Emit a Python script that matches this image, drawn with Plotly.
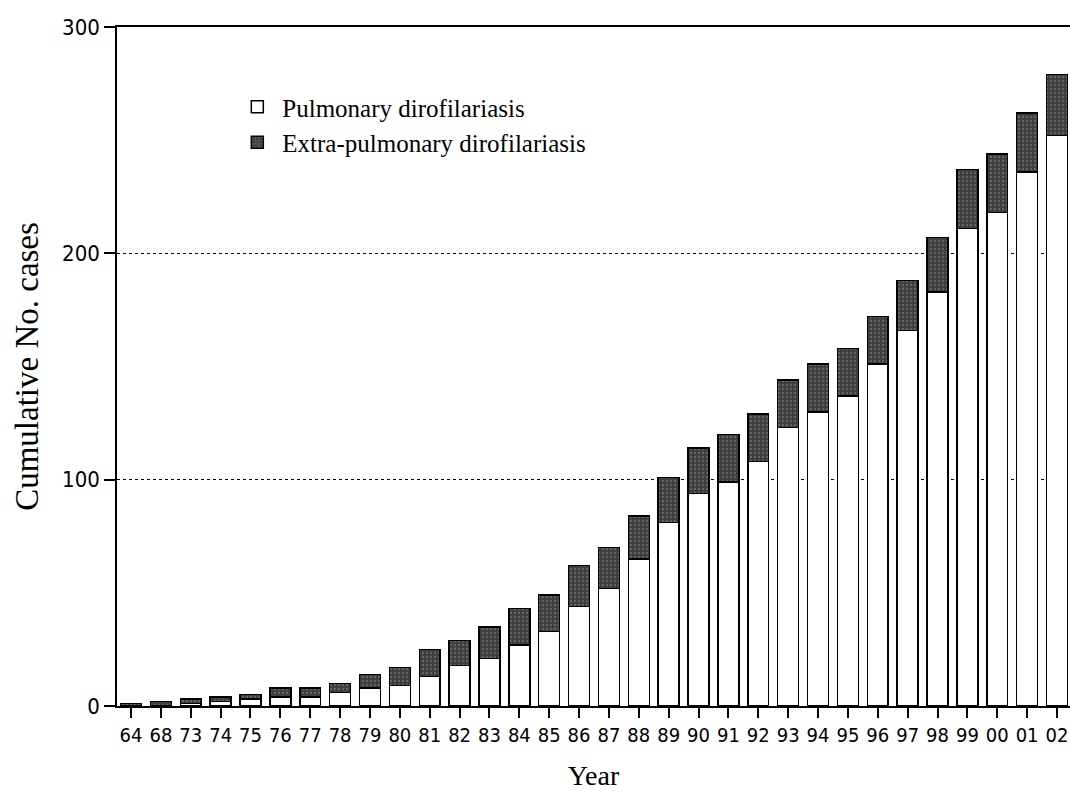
import plotly.graph_objects as go

years = ["64", "68", "73", "74", "75", "76", "77", "78", "79", "80", "81", "82",
         "83", "84", "85", "86", "87", "88", "89", "90", "91", "92", "93", "94",
         "95", "96", "97", "98", "99", "00", "01", "02"]
pulmonary = [0, 0, 1, 2, 3, 4, 4, 6, 8, 9, 13, 18, 21, 27, 33, 44, 52, 65, 81, 94,
             99, 108, 123, 130, 137, 151, 166, 183, 211, 218, 236, 252]
extra_pulmonary = [1, 2, 2, 2, 2, 4, 4, 4, 6, 8, 12, 11, 14, 16, 16, 18, 18, 19, 20,
                   20, 21, 21, 21, 21, 21, 21, 22, 24, 26, 26, 26, 27]

y_ticks = [0, 100, 200, 300]

serif = "Liberation Serif, Times New Roman, serif"
cond = "DejaVu Sans Condensed, Liberation Sans Narrow, DejaVu Sans, sans-serif"

fig = go.Figure()
fig.add_trace(go.Bar(
    x=years, y=pulmonary, name="Pulmonary dirofilariasis",
    marker=dict(color="white", line=dict(color="black", width=1.5)),
    width=0.7,
))
fig.add_trace(go.Bar(
    x=years, y=extra_pulmonary, name="Extra-pulmonary dirofilariasis",
    marker=dict(color="#444444", line=dict(color="black", width=1.5),
                pattern=dict(shape=".", fgcolor="#8e8e8e", bgcolor="#3e3e3e",
                             size=4, solidity=0.25)),
    width=0.7,
))

fig.update_layout(
    width=1070, height=793, autosize=False,
    barmode="stack",
    margin=dict(l=117, r=0, t=27, b=87),
    plot_bgcolor="white", paper_bgcolor="white",
    showlegend=True,
    legend=dict(x=0.121, y=0.916, xanchor="left", yanchor="top",
                font=dict(family=serif, size=25, color="black"),
                bgcolor="rgba(0,0,0,0)", itemwidth=40,
                traceorder="normal"),
    xaxis=dict(
        type="category", range=[-0.469, 31.436],
        showline=True, linecolor="black", linewidth=1.5, mirror=True,
        ticks="outside", ticklen=10, tickcolor="black", tickwidth=1.5,
        tickfont=dict(family=cond, size=20, color="black"),
        showgrid=False,
        title=dict(text="Year", font=dict(family=serif, size=28, color="black"),
                   standoff=20),
    ),
    yaxis=dict(
        range=[0, 300], tickvals=y_ticks,
        showline=True, linecolor="black", linewidth=1.5,
        ticks="outside", ticklen=11, tickcolor="black", tickwidth=1.5,
        tickfont=dict(family=cond, size=22, color="black"),
        showgrid=True, gridcolor="black", gridwidth=1, griddash="dot",
        zeroline=False,
        title=dict(text="Cumulative No. cases",
                   font=dict(family=serif, size=33, color="black"),
                   standoff=14),
    ),
)

fig.add_shape(type="line", xref="paper", yref="y", x0=-0.013, x1=0, y0=0, y1=0,
              line=dict(color="black", width=1.5))

fig.write_html(
    "out.html",
    config={"displayModeBar": False},
    post_script="document.body.style.margin='0';"
                "document.documentElement.style.overflow='hidden';"
                "document.body.style.overflow='hidden';",
)
